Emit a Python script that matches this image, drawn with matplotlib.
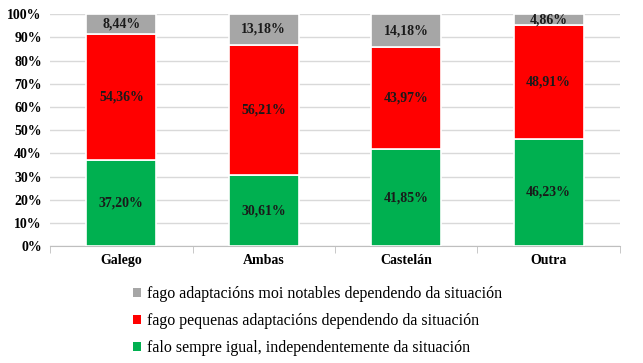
import numpy as np
import matplotlib.pyplot as plt
from matplotlib.patches import Patch
from matplotlib.ticker import MultipleLocator, PercentFormatter

plt.rcParams['font.family'] = ['Liberation Serif', 'DejaVu Serif']

categories = ['Galego', 'Ambas', 'Castelán', 'Outra']
igual = [37.20, 30.61, 41.85, 46.23]
pequenas = [54.36, 56.21, 43.97, 48.91]
notables = [8.44, 13.18, 14.18, 4.86]

series = [
    (igual, '#00B050', 'falo sempre igual, independentemente da situación'),
    (pequenas, '#FF0000', 'fago pequenas adaptacións dependendo da situación'),
    (notables, '#A6A6A6', 'fago adaptacións moi notables dependendo da situación'),
]

fig = plt.figure(figsize=(6.43, 3.63), dpi=100)
ax = fig.add_axes([0.078, 0.322, 0.886, 0.639])

x = np.arange(len(categories))
bottom = np.zeros(len(categories))
for vals, color, label in series:
    vals = np.array(vals)
    ax.bar(x, vals, 0.49, bottom=bottom, color=color,
           edgecolor='white', linewidth=1.2, zorder=3)
    for xi, b, v in zip(x, bottom, vals):
        ax.text(xi, b + v / 2, f'{v:.2f}%'.replace('.', ','),
                ha='center', va='center', fontsize=10, fontweight='bold',
                color='#1a1a1a', zorder=4)
    bottom += vals

ax.set_xlim(-0.5, 3.5)
ax.set_ylim(0, 100)
ax.yaxis.set_major_locator(MultipleLocator(10))
ax.yaxis.set_major_formatter(PercentFormatter(decimals=0))
ax.grid(axis='y', color='#D9D9D9', linewidth=1, zorder=0)
for s in ['top', 'right', 'left']:
    ax.spines[s].set_visible(False)
ax.spines['bottom'].set_color('#BFBFBF')
ax.tick_params(axis='y', length=0, labelsize=10, pad=6)
ax.set_xticks(x)
ax.set_xticklabels(categories, fontsize=10, fontweight='bold')
ax.tick_params(axis='x', length=0, pad=6)
ax.set_xticks(np.arange(-0.5, 4, 1), minor=True)
ax.tick_params(axis='x', which='minor', length=5, color='#BFBFBF')
for lab in ax.get_yticklabels():
    lab.set_fontweight('bold')

handles = [Patch(facecolor=c, label=l) for _, c, l in reversed(series)]
fig.legend(handles=handles, loc='upper left', bbox_to_anchor=(0.197, 0.23),
           frameon=False, prop={'family': 'Liberation Serif', 'size': 11.5},
           handlelength=0.5, handleheight=0.5,
           handletextpad=0.35, labelspacing=0.7, borderaxespad=0)

fig.savefig('out.png', dpi=100)
